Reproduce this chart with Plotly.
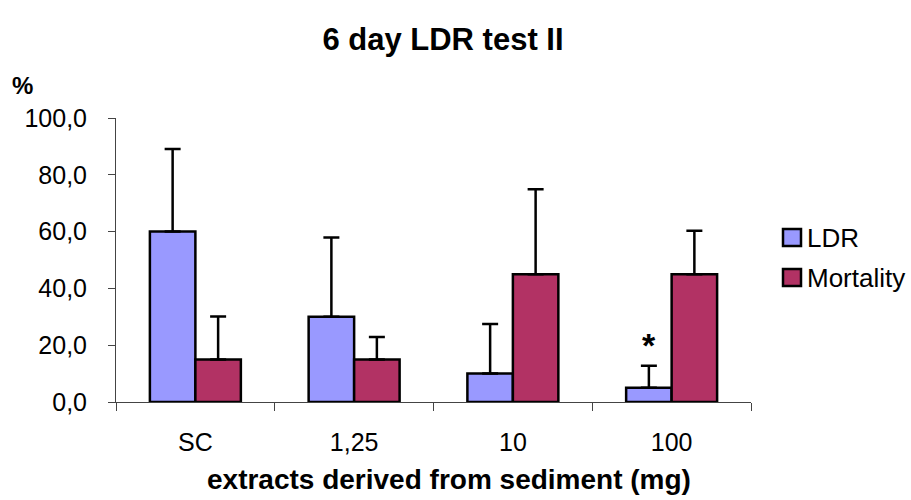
import plotly.graph_objects as go

# Data
categories = ["SC", "1,25", "10", "100"]
ldr = [60.0, 30.0, 10.0, 5.0]
ldr_sd = [29.1, 27.9, 17.5, 7.8]
mortality = [15.0, 15.0, 45.0, 45.0]
mortality_sd = [15.1, 7.9, 29.9, 15.3]
series_names = ["LDR", "Mortality"]
y_ticks = [0, 20, 40, 60, 80, 100]

FONT = "Liberation Sans, Arial, sans-serif"
LDR_COLOR = "#9999FF"
MORT_COLOR = "#B23264"

fig = go.Figure()


def add_series(name, values, sd, color):
    fig.add_trace(go.Bar(
        x=categories, y=values, name=name, showlegend=False,
        marker=dict(color=color, line=dict(color="black", width=2.5)),
        error_y=dict(type="data", array=sd, arrayminus=[0] * len(sd),
                     symmetric=False, color="black", thickness=2.5, width=8),
    ))


add_series(series_names[0], ldr, ldr_sd, LDR_COLOR)
add_series(series_names[1], mortality, mortality_sd, MORT_COLOR)

# Significance marker above the LDR bar at the highest dose
star_idx = categories.index("100")
fig.add_annotation(
    x=star_idx, y=ldr[star_idx] + ldr_sd[star_idx], xref="x", yref="y",
    text="<b>*</b>", showarrow=False, xshift=-22.75, yshift=0,
    yanchor="bottom", font=dict(family=FONT, size=34, color="black"),
)

# Legend: colour boxes with labels
legend_rows = [(series_names[0], LDR_COLOR, 237.5), (series_names[1], MORT_COLOR, 277.5)]
for label, color, yc in legend_rows:
    fig.add_shape(type="rect", xref="paper", yref="paper",
                  x0=(783 - 116) / 635, x1=(801 - 116) / 635,
                  y0=(402 - yc - 8.5) / 284, y1=(402 - yc + 8.5) / 284,
                  line=dict(color="black", width=2.5), fillcolor=color)
    fig.add_annotation(x=(805 - 116) / 635, y=(402 - yc) / 284,
                       xref="paper", yref="paper", text=label,
                       showarrow=False, xanchor="left", yanchor="middle",
                       font=dict(family=FONT, size=26, color="black"))

# Axis captions
fig.add_annotation(x=(22 - 116) / 635, y=(402 - 85) / 284, xref="paper", yref="paper",
                   text="<b>%</b>", showarrow=False, xanchor="center", yanchor="middle",
                   font=dict(family=FONT, size=24, color="black"))
fig.add_annotation(x=(449 - 116) / 635, y=(402 - 479) / 284, xref="paper", yref="paper",
                   text="<b>extracts derived from sediment (mg)</b>", showarrow=False,
                   xanchor="center", yanchor="middle",
                   font=dict(family=FONT, size=28, color="black"))

fig.update_layout(
    width=911, height=500,
    margin=dict(l=116, r=160, t=118, b=98),
    paper_bgcolor="white", plot_bgcolor="white",
    separators=",.",
    barmode="group", bargap=0.427, bargroupgap=0,
    title=dict(text="<b>6 day LDR test II</b>", x=443 / 911, xanchor="center",
               y=1 - 39 / 500, yanchor="middle",
               font=dict(family=FONT, size=31, color="black")),
    font=dict(family=FONT, size=24, color="black"),
)

fig.update_xaxes(
    type="category", categoryorder="array", categoryarray=categories,
    range=[-0.5, len(categories) - 0.5],
    showline=True, linecolor="#444444", linewidth=1,
    ticks="outside", tickson="boundaries", ticklen=8, tickcolor="#444444",
    ticklabelstandoff=18, tickangle=0, showgrid=False, zeroline=False,
    tickfont=dict(family=FONT, size=25, color="black"),
)
fig.update_yaxes(
    range=[0, 100], tickvals=y_ticks, tickformat=".1f",
    showline=True, linecolor="#444444", linewidth=1,
    ticks="outside", ticklen=7, tickcolor="#444444",
    ticklabelstandoff=16, showgrid=False, zeroline=False,
    tickfont=dict(family=FONT, size=25, color="black"),
)

fig.write_html("out.html")
